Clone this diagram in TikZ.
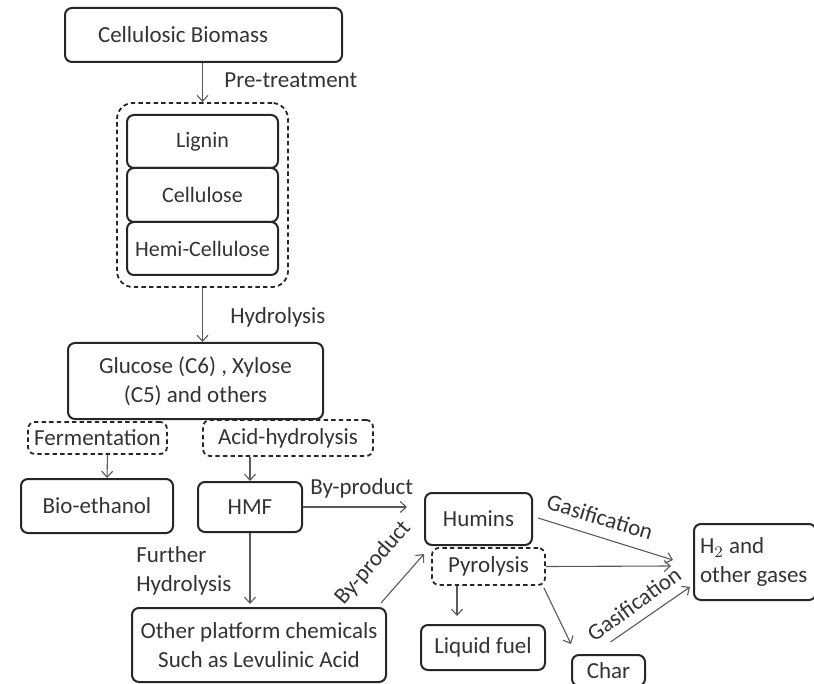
\documentclass[tikz,border=0pt]{standalone}
\usepackage{fontspec}
\setmainfont{Carlito}
\usetikzlibrary{fit,arrows.meta}
\tikzset{
  solidbox/.style={draw=black!85, line width=1pt, rounded corners=3.5pt, align=center, text=black!80, inner sep=2pt},
  dashbox/.style={draw=black!85, line width=0.9pt, dash pattern=on 2.2pt off 1.6pt, rounded corners=3.5pt, align=center, text=black!80, inner sep=2pt},
  flow/.style={-{Straight Barb[length=3pt,width=5.5pt]}, draw=black!65, line width=0.55pt},
  lbl/.style={text=black!80, inner sep=0pt}
}

\begin{document}
\begin{tikzpicture}[x=0.5pt, y=-0.5pt, font=\fontsize{11.5}{14.5}\selectfont]
	%%%%% FRAME %%%%%
	\useasboundingbox (0,0) rectangle (814,684);

	%%%%% BIOMASS AND CELL WALL %%%%%
	\node[solidbox, minimum width=138.5pt, minimum height=27pt, text width=105.5pt, inner xsep=16.5pt, align=flush left] (biomass) at (203.5,35) {\spaceskip=0pt\relax Cellulosic Biomass};

	\node[solidbox, minimum width=75.5pt, minimum height=26.5pt, font=\fontsize{11}{13}\selectfont] (lignin) at (202.5,141.5) {Lignin};
	\node[solidbox, minimum width=75.5pt, minimum height=27pt, font=\fontsize{11}{13}\selectfont] (cellulose) at (202.5,195) {Cellulose};
	\node[solidbox, minimum width=75.5pt, minimum height=26.5pt, font=\fontsize{11}{13}\selectfont] (hemi) at (202.5,248.5) {Hemi-Cellulose};
	\node[dashbox, fit=(lignin)(hemi), inner xsep=4.5pt, inner ysep=5.5pt, rounded corners=8pt] (cellwall) {};

	\draw[flow] (biomass.south -| cellwall.north) -- (cellwall.north);
	\node[lbl, anchor=west] (pretreat) at (224,80) {Pre-treatment};

	%%%%% SUGARS %%%%%
	\node[solidbox, minimum width=127.5pt, minimum height=38pt] (sugars) at (195.5,381) {Glucose (C6) , Xylose\\(C5) and others};
	\draw[flow] (cellwall.south) -- (sugars.north -| cellwall.south);
	\node[lbl, anchor=west] (hydro) at (230,317) {Hydrolysis};

	\node[dashbox, minimum width=69.5pt, minimum height=16pt] (ferment) at (97.5,438) {Fermentation};
	\node[dashbox, minimum width=85pt, minimum height=18pt] (acid) at (288,438) {Acid-hydrolysis};

	\node[solidbox, minimum width=76pt, minimum height=27pt] (ethanol) at (97,506) {Bio-ethanol};
	\node[solidbox, minimum width=52pt, minimum height=25pt] (hmf) at (250,507) {HMF};

	\draw[flow] ([xshift=5pt]ferment.south) -- ([xshift=5pt]ethanol.north);
	\draw[flow] (acid.south -| hmf.north) -- (hmf.north);

	%%%%% PLATFORM CHEMICALS %%%%%
	\node[solidbox, minimum width=127pt, minimum height=37pt] (platform) at (259,645) {Other platform chemicals\\Such as Levulinic Acid};
	\draw[flow] (hmf.south) -- ([yshift=1.5pt]platform.north -| hmf.south);
	\node[lbl, anchor=west, align=left] (further) at (136,571) {Further\\Hydrolysis};

	%%%%% HUMINS %%%%%
	\node[solidbox, minimum width=53.5pt, minimum height=26pt] (humins) at (478.5,519) {Humins};
	\node[dashbox, minimum width=56.5pt, minimum height=18.5pt] (pyro) at (488.5,566.5) {Pyrolysis};
	\node[solidbox, minimum width=62pt, minimum height=22.5pt] (liquid) at (483,647.5) {Liquid fuel};
	\node[solidbox, minimum width=36.5pt, minimum height=15.5pt] (char) at (608.5,670.5) {Char};
	\node[solidbox, anchor=west, minimum height=38pt, text width=55pt, inner xsep=3pt, align=flush left] (gases) at (693,562) {\spaceskip=0pt\relax H$_2$ and\\other gases};

	\draw[flow] (hmf.east) -- ([xshift=-8.5pt]humins.west |- hmf.east);
	\node[lbl, anchor=west] (byprod) at (310,488) {By-product};

	\draw[flow] ([xshift=-3pt,yshift=2pt]platform.north east) -- ([yshift=-4pt]humins.south west);
	\node[lbl, rotate=49] (byprodb) at (373,563) {By-product};

	\draw[flow] ([xshift=2.5pt,yshift=0.5pt]humins.east) -- ([xshift=-10pt,yshift=1pt]gases.west);
	\node[lbl, rotate=-17] (gasifa) at (600,517) {Gasification};

	\draw[flow] (pyro.east) -- ([xshift=-11pt,yshift=-2pt]gases.west);
	\draw[flow] ([xshift=-15.75pt]pyro.south) -- ([xshift=-15.75pt,yshift=4pt]pyro.south |- liquid.north);
	\draw[flow] ([xshift=-1pt,yshift=-1pt]pyro.south east) -- ([yshift=5pt]char.north west);

	\draw[flow] ([xshift=1pt,yshift=6pt]char.north) -- ([xshift=-1.5pt,yshift=-12.5pt]gases.west);
	\node[lbl, rotate=36] (gasifb) at (634,604) {Gasification};
\end{tikzpicture}
\end{document}
